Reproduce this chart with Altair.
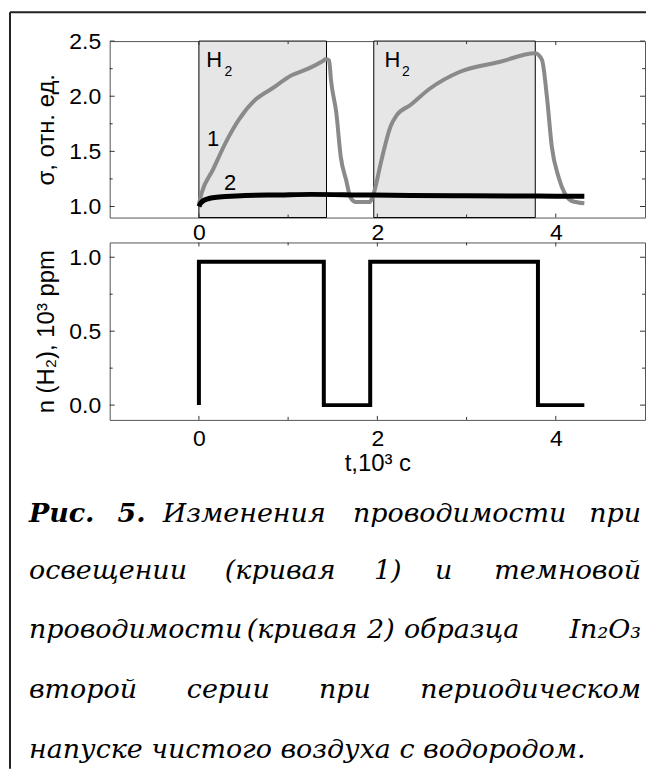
import altair as alt
import pandas as pd

# ---------------- data ----------------
# curve 1 (illuminated), sigma vs t (10^3 s)
curve1_t = [0.0, 0.03, 0.155, 0.30, 0.45, 0.635, 0.82, 1.04, 1.225, 1.39, 1.42, 1.46, 1.48,
            1.54, 1.59, 1.65, 1.70, 1.76, 1.91, 1.96, 2.04, 2.15, 2.22, 2.37, 2.59, 2.92,
            3.365, 3.77, 3.845, 3.90, 3.955, 4.03, 4.10, 4.18, 4.32]
curve1_s = [1.02, 1.12, 1.33, 1.58, 1.79, 1.97, 2.07, 2.19, 2.25, 2.32, 2.335, 2.325, 2.15,
            1.85, 1.45, 1.24, 1.08, 1.04, 1.04, 1.12, 1.40, 1.73, 1.83, 1.92, 2.07, 2.22,
            2.31, 2.39, 2.33, 2.00, 1.545, 1.27, 1.12, 1.05, 1.03]
# curve 2 (dark)
curve2_t = [0.0, 0.02, 0.045, 0.10, 0.155, 0.30, 0.52, 0.90, 1.26, 1.80, 2.37, 3.00, 3.60, 4.00, 4.32]
curve2_s = [1.00, 1.03, 1.05, 1.07, 1.08, 1.09, 1.10, 1.105, 1.11, 1.105, 1.10, 1.097, 1.095, 1.094, 1.094]
# H2 exposure intervals
h2_start = [0.0, 1.96]
h2_end = [1.43, 3.77]
# H2 concentration (10^3 ppm), step profile
step_t = [0.0, 0.0, 1.40, 1.40, 1.92, 1.92, 3.80, 3.80, 4.32]
step_n = [0.0, 0.97, 0.97, 0.0, 0.0, 0.97, 0.97, 0.0, 0.0]

# labels
h_label_t = [0.17, 2.17]
h_label_s = [2.33, 2.33]
sub_label_t = [0.33, 2.32]
sub_label_s = [2.22, 2.22]
curve_label_t = [0.16, 0.35]
curve_label_s = [1.61, 1.215]
curve_label_txt = ["1", "2"]

# ticks
x_major = [0, 2, 4]
x_minor = [1, 3]
y1_major = [1.0, 1.5, 2.0, 2.5]
y1_minor = [1.25, 1.75, 2.25]
y2_major = [0.0, 0.5, 1.0]
y2_minor = [0.25, 0.75]

# ---------------- layout ----------------
W = 537
H1 = 177
H2 = 178
FONT = "Liberation Sans"
SERIF = "DejaVu Serif"

xscale = alt.Scale(domain=[-1, 5], nice=False, zero=False)
y1scale = alt.Scale(domain=[0.9, 2.5], nice=False, zero=False)
y2scale = alt.Scale(domain=[-0.1, 1.1], nice=False, zero=False)

xaxis_top = alt.Axis(values=x_major, format="d", labelPadding=4, title=None)
xaxis_bot = alt.Axis(values=x_major, format="d", labelPadding=8, title="t,10³ c", titlePadding=1)
y1axis = alt.Axis(values=y1_major, format=".1f", labelPadding=9, title="σ, отн. ед.", titlePadding=10)
y2axis = alt.Axis(values=y2_major, format=".1f", labelPadding=9, title="n (H₂), 10³ ppm", titlePadding=10)

one = pd.DataFrame({"a": [0]})


def xticks(vals, length, h, xaxis):
    b = alt.Chart(pd.DataFrame({"v": vals}))
    bottom = b.mark_rule(color="#333", strokeWidth=1).encode(
        x=alt.X("v:Q", scale=xscale, axis=xaxis), y=alt.value(h - length), y2=alt.value(h))
    top = b.mark_rule(color="#333", strokeWidth=1).encode(
        x=alt.X("v:Q", scale=xscale, axis=xaxis), y=alt.value(0), y2=alt.value(length))
    return [bottom, top]


def yticks(vals, length, yscale, yaxis):
    b = alt.Chart(pd.DataFrame({"v": vals}))
    left = b.mark_rule(color="#333", strokeWidth=1).encode(
        y=alt.Y("v:Q", scale=yscale, axis=yaxis), x=alt.value(0), x2=alt.value(length))
    right = b.mark_rule(color="#333", strokeWidth=1).encode(
        y=alt.Y("v:Q", scale=yscale, axis=yaxis), x=alt.value(W - length), x2=alt.value(W))
    return [left, right]


# ---------------- top panel ----------------
shade_df = pd.DataFrame({"start": h2_start, "end": h2_end})
shade = alt.Chart(shade_df).mark_rect(fill="#e6e6e6", stroke="#000", strokeWidth=1).encode(
    x=alt.X("start:Q", scale=xscale, axis=xaxis_top), x2="end:Q",
    y=alt.value(0), y2=alt.value(H1))

c1_df = pd.DataFrame({"t": curve1_t, "s": curve1_s, "o": list(range(len(curve1_t)))})
c1 = alt.Chart(c1_df).mark_line(color="#8a8a8a", strokeWidth=4, strokeJoin="round",
                                interpolate="monotone").encode(
    x=alt.X("t:Q", scale=xscale, axis=xaxis_top),
    y=alt.Y("s:Q", scale=y1scale, axis=y1axis), order="o:Q")

c2_df = pd.DataFrame({"t": curve2_t, "s": curve2_s})
c2 = alt.Chart(c2_df).mark_line(color="#000", strokeWidth=5, interpolate="monotone").encode(
    x=alt.X("t:Q", scale=xscale, axis=xaxis_top),
    y=alt.Y("s:Q", scale=y1scale, axis=y1axis))

hl = alt.Chart(pd.DataFrame({"t": h_label_t, "s": h_label_s})).mark_text(
    text="H", font=FONT, fontSize=22, color="#000", align="center", baseline="middle").encode(
    x=alt.X("t:Q", scale=xscale, axis=xaxis_top), y=alt.Y("s:Q", scale=y1scale, axis=y1axis))
hs = alt.Chart(pd.DataFrame({"t": sub_label_t, "s": sub_label_s})).mark_text(
    text="2", font=FONT, fontSize=14, color="#000", align="center", baseline="middle").encode(
    x=alt.X("t:Q", scale=xscale, axis=xaxis_top), y=alt.Y("s:Q", scale=y1scale, axis=y1axis))
cl = alt.Chart(pd.DataFrame({"t": curve_label_t, "s": curve_label_s, "txt": curve_label_txt})).mark_text(
    font=FONT, fontSize=22, color="#000", align="center", baseline="middle").encode(
    x=alt.X("t:Q", scale=xscale, axis=xaxis_top), y=alt.Y("s:Q", scale=y1scale, axis=y1axis),
    text="txt:N")

frame_v = alt.Chart(one).mark_rule(color="#222", strokeWidth=2).encode(
    x=alt.value(-100), y=alt.value(-29), y2=alt.value(730))
frame_h = alt.Chart(one).mark_rule(color="#222", strokeWidth=2).encode(
    x=alt.value(-100), x2=alt.value(W + 1), y=alt.value(-29))

top = alt.layer(
    shade, c1, c2, hl, hs, cl,
    *xticks(x_major, 4, H1, xaxis_top), *xticks(x_minor, 3, H1, xaxis_top),
    *yticks(y1_major, 5, y1scale, y1axis), *yticks(y1_minor, 3, y1scale, y1axis),
    frame_v, frame_h,
).properties(width=W, height=H1)

# ---------------- bottom panel ----------------
st_df = pd.DataFrame({"t": step_t, "n": step_n, "o": list(range(len(step_t)))})
step = alt.Chart(st_df).mark_line(color="#000", strokeWidth=4, strokeJoin="miter").encode(
    x=alt.X("t:Q", scale=xscale, axis=xaxis_bot),
    y=alt.Y("n:Q", scale=y2scale, axis=y2axis), order="o:Q")

# caption words: (text, x px absolute, line, align, bold)
X0 = -109
caption_words = [
    ("Рис.", 28, 0, "left", True), ("5.", 131, 0, "center", True),
    ("Изменения", 244, 0, "center", False), ("проводимости", 460, 0, "center", False),
    ("при", 642, 0, "right", False),
    ("освещении", 28, 1, "left", False), ("(кривая", 280, 1, "center", False),
    ("1)", 388, 1, "center", False), ("и", 444, 1, "center", False),
    ("темновой", 642, 1, "right", False),
    ("проводимости", 28, 2, "left", False), ("(кривая", 302, 2, "center", False),
    ("2)", 381, 2, "center", False), ("образца", 462, 2, "center", False),
    ("In₂O₃", 642, 2, "right", False),
    ("второй", 28, 3, "left", False), ("серии", 228, 3, "center", False),
    ("при", 345, 3, "center", False), ("периодическом", 642, 3, "right", False),
    ("напуске чистого воздуха с водородом.", 28, 4, "left", False),
]
line_base = [523, 581, 640, 700, 760]
caption_layers = []
for txt, ax, ln, al, bold in caption_words:
    caption_layers.append(
        alt.Chart(one).mark_text(
            text=txt, font=SERIF, fontSize=27, fontStyle="italic",
            fontWeight="bold" if bold else "normal", color="#000",
            align=al, baseline="alphabetic").encode(
            x=alt.value(ax + X0), y=alt.value(line_base[ln] - 243)))

bottom = alt.layer(
    step,
    *xticks(x_major, 4, H2, xaxis_bot), *xticks(x_minor, 3, H2, xaxis_bot),
    *yticks(y2_major, 5, y2scale, y2axis), *yticks(y2_minor, 3, y2scale, y2axis),
    *caption_layers,
).properties(width=W, height=H2)

chart = alt.vconcat(top, bottom, spacing=25, bounds="flush").properties(
    padding={"left": 0, "top": 1, "right": 0, "bottom": 0}
).configure_view(stroke="#555", strokeWidth=1).configure_axis(
    domain=False, ticks=False, grid=False,
    labelFont=FONT, labelFontSize=23, labelColor="#000",
    titleFont=FONT, titleFontSize=24, titleFontWeight="normal", titleColor="#000",
)

chart.save("out.html", embed_options={"renderer": "svg", "actions": False})
